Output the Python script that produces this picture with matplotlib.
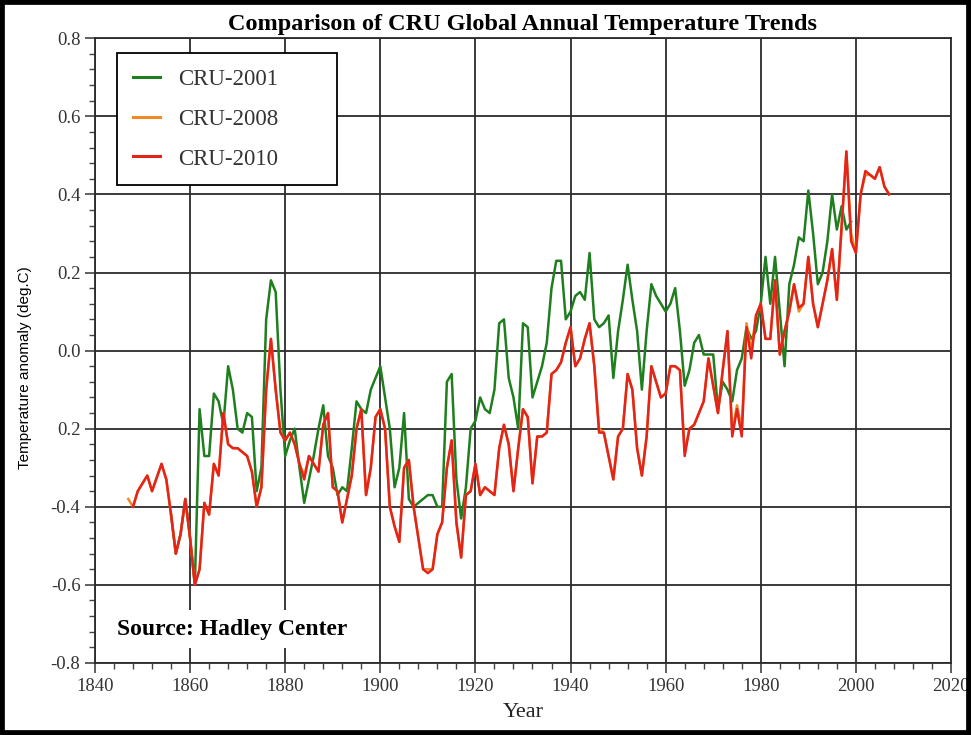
"""Comparison of CRU global annual temperature trends (CRU-2001 / 2008 / 2010)."""

import matplotlib
matplotlib.use("Agg")
import matplotlib.pyplot as plt
from matplotlib.patches import Rectangle
from matplotlib.ticker import MultipleLocator

# --- data --------------------------------------------------------------------
years_2001 = [1856, 1857, 1858, 1859, 1860, 1861, 1862, 1863, 1864, 1865,
              1866, 1867, 1868, 1869, 1870, 1871, 1872, 1873, 1874, 1875,
              1876, 1877, 1878, 1879, 1880, 1881, 1882, 1883, 1884, 1885,
              1886, 1887, 1888, 1889, 1890, 1891, 1892, 1893, 1894, 1895,
              1896, 1897, 1898, 1899, 1900, 1901, 1902, 1903, 1904, 1905,
              1906, 1907, 1908, 1909, 1910, 1911, 1912, 1913, 1914, 1915,
              1916, 1917, 1918, 1919, 1920, 1921, 1922, 1923, 1924, 1925,
              1926, 1927, 1928, 1929, 1930, 1931, 1932, 1933, 1934, 1935,
              1936, 1937, 1938, 1939, 1940, 1941, 1942, 1943, 1944, 1945,
              1946, 1947, 1948, 1949, 1950, 1951, 1952, 1953, 1954, 1955,
              1956, 1957, 1958, 1959, 1960, 1961, 1962, 1963, 1964, 1965,
              1966, 1967, 1968, 1969, 1970, 1971, 1972, 1973, 1974, 1975,
              1976, 1977, 1978, 1979, 1980, 1981, 1982, 1983, 1984, 1985,
              1986, 1987, 1988, 1989, 1990, 1991, 1992, 1993, 1994, 1995,
              1996, 1997, 1998, 1999]
cru_2001 = [-0.42, -0.52, -0.47, -0.38, -0.48, -0.60, -0.15, -0.27, -0.27, -0.11,
            -0.13, -0.19, -0.04, -0.10, -0.20, -0.21, -0.16, -0.17, -0.36, -0.30,
            0.08, 0.18, 0.15, -0.10, -0.27, -0.23, -0.20, -0.30, -0.39, -0.33,
            -0.27, -0.20, -0.14, -0.27, -0.30, -0.37, -0.35, -0.36, -0.25, -0.13,
            -0.15, -0.16, -0.10, -0.07, -0.04, -0.12, -0.20, -0.35, -0.30, -0.16,
            -0.38, -0.40, -0.39, -0.38, -0.37, -0.37, -0.40, -0.40, -0.08, -0.06,
            -0.33, -0.43, -0.35, -0.20, -0.18, -0.12, -0.15, -0.16, -0.10, 0.07,
            0.08, -0.07, -0.12, -0.20, 0.07, 0.06, -0.12, -0.08, -0.04, 0.02,
            0.16, 0.23, 0.23, 0.08, 0.10, 0.14, 0.15, 0.13, 0.25, 0.08,
            0.06, 0.07, 0.09, -0.07, 0.05, 0.13, 0.22, 0.13, 0.05, -0.10,
            0.05, 0.17, 0.14, 0.12, 0.10, 0.12, 0.16, 0.05, -0.09, -0.05,
            0.02, 0.04, -0.01, -0.01, -0.01, -0.15, -0.08, -0.10, -0.13, -0.05,
            -0.02, 0.06, 0.03, 0.05, 0.12, 0.24, 0.12, 0.24, 0.10, -0.04,
            0.17, 0.22, 0.29, 0.28, 0.41, 0.30, 0.17, 0.20, 0.28, 0.40,
            0.31, 0.37, 0.31, 0.33]

years_2008 = [1847, 1848, 1849, 1851, 1852, 1854, 1855, 1856, 1857, 1858,
              1859, 1860, 1861, 1862, 1863, 1864, 1865, 1866, 1867, 1868,
              1869, 1870, 1871, 1872, 1873, 1874, 1875, 1876, 1877, 1878,
              1879, 1880, 1881, 1882, 1883, 1884, 1885, 1886, 1887, 1888,
              1889, 1890, 1891, 1892, 1893, 1894, 1895, 1896, 1897, 1898,
              1899, 1900, 1901, 1902, 1903, 1904, 1905, 1906, 1907, 1908,
              1909, 1910, 1911, 1912, 1913, 1914, 1915, 1916, 1917, 1918,
              1919, 1920, 1921, 1922, 1923, 1924, 1925, 1926, 1927, 1928,
              1929, 1930, 1931, 1932, 1933, 1934, 1935, 1936, 1937, 1938,
              1939, 1940, 1941, 1942, 1943, 1944, 1945, 1946, 1947, 1948,
              1949, 1950, 1951, 1952, 1953, 1954, 1955, 1956, 1957, 1958,
              1959, 1960, 1961, 1962, 1963, 1964, 1965, 1966, 1967, 1968,
              1969, 1970, 1971, 1972, 1973, 1974, 1975, 1976, 1977, 1978,
              1979, 1980, 1981, 1982, 1983, 1984, 1985, 1986, 1987, 1988,
              1989, 1990, 1991, 1992, 1993, 1994, 1995, 1996, 1997, 1998,
              1999, 2000, 2001, 2002, 2003, 2004, 2005, 2006, 2007]
cru_2008 = [-0.38, -0.40, -0.36, -0.32, -0.36, -0.29, -0.33, -0.42, -0.52, -0.47,
            -0.38, -0.48, -0.60, -0.56, -0.39, -0.42, -0.29, -0.32, -0.16, -0.24,
            -0.25, -0.25, -0.26, -0.27, -0.31, -0.40, -0.35, -0.10, 0.03, -0.10,
            -0.21, -0.23, -0.21, -0.24, -0.29, -0.32, -0.27, -0.29, -0.31, -0.19,
            -0.16, -0.35, -0.36, -0.44, -0.38, -0.32, -0.20, -0.15, -0.37, -0.30,
            -0.17, -0.15, -0.20, -0.40, -0.45, -0.49, -0.30, -0.28, -0.40, -0.48,
            -0.56, -0.56, -0.56, -0.47, -0.44, -0.30, -0.23, -0.44, -0.53, -0.37,
            -0.36, -0.29, -0.37, -0.35, -0.36, -0.37, -0.25, -0.19, -0.24, -0.36,
            -0.25, -0.15, -0.17, -0.34, -0.22, -0.22, -0.21, -0.06, -0.05, -0.03,
            0.02, 0.06, -0.04, -0.02, 0.03, 0.07, -0.04, -0.20, -0.21, -0.27,
            -0.33, -0.22, -0.20, -0.06, -0.10, -0.25, -0.32, -0.22, -0.04, -0.08,
            -0.12, -0.11, -0.04, -0.04, -0.05, -0.26, -0.20, -0.19, -0.16, -0.13,
            -0.02, -0.09, -0.16, -0.05, 0.05, -0.21, -0.14, -0.20, 0.07, 0.00,
            0.09, 0.12, 0.03, 0.03, 0.18, -0.01, 0.05, 0.10, 0.17, 0.10,
            0.12, 0.24, 0.12, 0.06, 0.12, 0.18, 0.26, 0.13, 0.31, 0.51,
            0.30, 0.25, 0.40, 0.45, 0.45, 0.44, 0.47, 0.42, 0.40]

years_2010 = [1848, 1849, 1851, 1852, 1854, 1855, 1856, 1857, 1858, 1859,
              1860, 1861, 1862, 1863, 1864, 1865, 1866, 1867, 1868, 1869,
              1870, 1871, 1872, 1873, 1874, 1875, 1876, 1877, 1878, 1879,
              1880, 1881, 1882, 1883, 1884, 1885, 1886, 1887, 1888, 1889,
              1890, 1891, 1892, 1893, 1894, 1895, 1896, 1897, 1898, 1899,
              1900, 1901, 1902, 1903, 1904, 1905, 1906, 1907, 1908, 1909,
              1910, 1911, 1912, 1913, 1914, 1915, 1916, 1917, 1918, 1919,
              1920, 1921, 1922, 1923, 1924, 1925, 1926, 1927, 1928, 1929,
              1930, 1931, 1932, 1933, 1934, 1935, 1936, 1937, 1938, 1939,
              1940, 1941, 1942, 1943, 1944, 1945, 1946, 1947, 1948, 1949,
              1950, 1951, 1952, 1953, 1954, 1955, 1956, 1957, 1958, 1959,
              1960, 1961, 1962, 1963, 1964, 1965, 1966, 1967, 1968, 1969,
              1970, 1971, 1972, 1973, 1974, 1975, 1976, 1977, 1978, 1979,
              1980, 1981, 1982, 1983, 1984, 1985, 1986, 1987, 1988, 1989,
              1990, 1991, 1992, 1993, 1994, 1995, 1996, 1997, 1998, 1999,
              2000, 2001, 2002, 2003, 2004, 2005, 2006, 2007]
cru_2010 = [-0.40, -0.36, -0.32, -0.36, -0.29, -0.33, -0.42, -0.52, -0.47, -0.38,
            -0.48, -0.60, -0.56, -0.39, -0.42, -0.29, -0.32, -0.16, -0.24, -0.25,
            -0.25, -0.26, -0.27, -0.31, -0.40, -0.35, -0.10, 0.03, -0.10, -0.21,
            -0.23, -0.21, -0.24, -0.29, -0.33, -0.27, -0.29, -0.31, -0.19, -0.16,
            -0.35, -0.36, -0.44, -0.38, -0.32, -0.20, -0.15, -0.37, -0.30, -0.17,
            -0.15, -0.20, -0.40, -0.45, -0.49, -0.30, -0.28, -0.40, -0.48, -0.56,
            -0.57, -0.56, -0.47, -0.44, -0.30, -0.23, -0.44, -0.53, -0.37, -0.36,
            -0.29, -0.37, -0.35, -0.36, -0.37, -0.25, -0.19, -0.24, -0.36, -0.25,
            -0.15, -0.17, -0.34, -0.22, -0.22, -0.21, -0.06, -0.05, -0.03, 0.02,
            0.06, -0.04, -0.02, 0.03, 0.07, -0.04, -0.21, -0.21, -0.27, -0.33,
            -0.22, -0.20, -0.06, -0.10, -0.25, -0.32, -0.22, -0.04, -0.08, -0.12,
            -0.11, -0.04, -0.04, -0.05, -0.27, -0.20, -0.19, -0.16, -0.13, -0.02,
            -0.09, -0.16, -0.05, 0.05, -0.22, -0.15, -0.22, 0.06, -0.02, 0.09,
            0.12, 0.03, 0.03, 0.18, -0.01, 0.05, 0.10, 0.17, 0.11, 0.12,
            0.24, 0.12, 0.06, 0.12, 0.18, 0.26, 0.13, 0.32, 0.51, 0.28,
            0.25, 0.40, 0.46, 0.45, 0.44, 0.47, 0.42, 0.40]

y_ticks = [-0.8, -0.6, -0.4, -0.2, 0.0, 0.2, 0.4, 0.6, 0.8]
# the original shows "0.2" (no minus) at -0.2
y_tick_labels = ["-0.8", "-0.6", "-0.4", "0.2", "0.0", "0.2", "0.4", "0.6", "0.8"]
x_ticks = list(range(1840, 2021, 20))

series = [
    ("CRU-2001", years_2001, cru_2001, "#1f7f1f"),
    ("CRU-2008", years_2008, cru_2008, "#f08a24"),
    ("CRU-2010", years_2010, cru_2010, "#e4231b"),
]

SERIF = ["Liberation Serif", "DejaVu Serif"]

fig = plt.figure(figsize=(9.71, 7.35), dpi=100)
ax = fig.add_axes([0.0978, 0.098, 0.8816, 0.850])

for label, yrs, vals, color in series:
    ax.plot(yrs, vals, color=color, lw=1.8, label=label, zorder=3)

ax.set_xlim(1840, 2020)
ax.set_ylim(-0.8, 0.8)
ax.set_xticks(x_ticks)
ax.set_yticks(y_ticks)
ax.set_yticklabels(y_tick_labels)
ax.xaxis.set_minor_locator(MultipleLocator(4))
ax.yaxis.set_minor_locator(MultipleLocator(0.04))

ax.grid(True, which="major", color="#2b2b2b", lw=1.3, zorder=1)
for side in ["left", "bottom", "top", "right"]:
    ax.spines[side].set_color("#2b2b2b")
    ax.spines[side].set_linewidth(1.3)

ax.tick_params(which="major", direction="out", length=7, width=1.2,
               color="#444444", labelcolor="#333333", labelsize=13.5)
ax.tick_params(which="minor", direction="out", length=4, width=1.0,
               color="#444444")
for lab in ax.get_xticklabels() + ax.get_yticklabels():
    lab.set_family(SERIF)

ax.set_title("Comparison of CRU Global Annual Temperature Trends",
             family=SERIF, fontweight="bold", fontsize=17.5, pad=6)
ax.set_xlabel("Year", family=SERIF, fontsize=16, labelpad=6, color="#222222")
ax.set_ylabel("Temperature anomaly (deg.C)",
              family=["Liberation Sans", "DejaVu Sans"], fontsize=11)
ax.yaxis.set_label_coords(-0.073, 0.472)

leg = ax.legend(loc="upper left", bbox_to_anchor=(0.0257, 0.976, 0.257, 0.0),
                mode="expand", prop={"family": SERIF, "size": 16.5},
                frameon=True, fancybox=False, framealpha=1, edgecolor="black",
                handlelength=1.2, handletextpad=0.8, labelspacing=0.82,
                borderpad=0.68, borderaxespad=0)
leg.get_frame().set_linewidth(1.3)
for txt in leg.get_texts():
    txt.set_color("#333333")
for line in leg.get_lines():
    line.set_linewidth(2.2)
leg.set_zorder(5)

ax.text(0.0257, 0.054, "Source: Hadley Center", transform=ax.transAxes,
        family=SERIF, fontweight="bold", fontsize=17, va="center",
        ha="left", zorder=6,
        bbox=dict(facecolor="white", edgecolor="none", pad=6))

# thick black frame round the whole picture
fig.patches.append(Rectangle((0, 0), 1, 1, transform=fig.transFigure,
                             fill=False, edgecolor="black", lw=7))

fig.savefig("out.png", dpi=100)
